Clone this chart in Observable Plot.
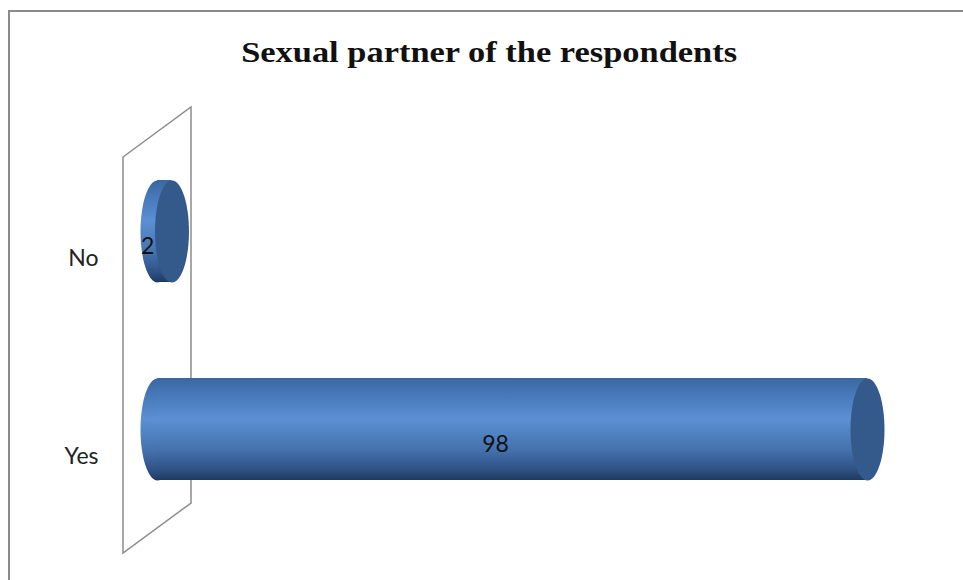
<!DOCTYPE html>
<html>
<head>
<meta charset="utf-8">
<script src="https://cdn.jsdelivr.net/npm/d3@7"></script>
<script src="https://cdn.jsdelivr.net/npm/@observablehq/plot@0.6"></script>
<style>
  html, body { margin: 0; padding: 0; background: #fff; }
  #wrap { position: relative; width: 963px; height: 580px; overflow: hidden; background: #fff; }
  #frame { position: absolute; left: 8px; top: 10px; width: 980px; height: 600px; border: 2px solid #8a8a8a; box-sizing: border-box; }
  #title { position: absolute; left: 0; width: 978px; top: 35px; text-align: center; }
  #title span { display: inline-block; transform-origin: 50% 50%;
           font-family: "Liberation Serif", serif; font-weight: bold; font-size: 30px; line-height: 34px;
           color: #111; white-space: nowrap; }
  #chart { position: absolute; left: 0; top: 0; }
</style>
</head>
<body>
<div id="wrap">
  <div id="frame"></div>
  <div id="title"><span id="titleText">Sexual partner of the respondents</span></div>
  <div id="chart"></div>
</div>
<script>
const categories = ["No", "Yes"];
const values = [2, 98];
const data = categories.map((c, i) => ({category: c, value: values[i]}));

// ellipse symbol (cylinder ends seen in perspective)
const ellipse = {
  draw(ctx, size) {
    const ry = Math.sqrt(size / Math.PI), rx = ry / 3, k = 0.5523;
    ctx.moveTo(rx, 0);
    ctx.bezierCurveTo(rx, k * ry, k * rx, ry, 0, ry);
    ctx.bezierCurveTo(-k * rx, ry, -rx, k * ry, -rx, 0);
    ctx.bezierCurveTo(-rx, -k * ry, -k * rx, -ry, 0, -ry);
    ctx.bezierCurveTo(k * rx, -ry, rx, -k * ry, rx, 0);
    ctx.closePath();
  }
};

// 3D back wall, derived from the scales
const wall = (index, scales, values, dims) => {
  const x0 = scales.x(0);
  const top = dims.marginTop, bot = dims.height - dims.marginBottom;
  const dx = 34, dy = 25;
  return d3.create("svg:path")
    .attr("d", `M${x0 - dx},${top + dy}L${x0 + dx},${top - dy}L${x0 + dx},${bot - dy}L${x0 - dx},${bot + dy}Z`)
    .attr("fill", "none")
    .attr("stroke", "#8c8c8c")
    .attr("stroke-width", 1.5)
    .node();
};

const chart = Plot.plot({
  width: 963,
  height: 580,
  marginLeft: 157,
  marginRight: 96,
  marginTop: 132,
  marginBottom: 52,
  style: {background: "transparent", overflow: "visible"},
  x: {domain: [0, 98], axis: null},
  y: {domain: categories, paddingInner: 0.485, paddingOuter: 0.2425, axis: null},
  marks: [
    wall,
    Plot.dot(data, {x: () => 0, y: "category", r: 51, symbol: ellipse, fill: "url(#cylGrad)"}),
    Plot.barX(data, {x1: () => 0, x2: "value", y: "category", fill: "url(#cylGrad)"}),
    Plot.dot(data, {x: "value", y: "category", r: 51, symbol: ellipse, fill: "#34598b"}),
    Plot.text(data, {x: d => d.value / 2, y: "category", text: d => String(d.value), dx: -17, dy: 15,
      fontSize: 23, fontFamily: "Lato, 'Liberation Sans', sans-serif", fill: "#111"}),
    Plot.text(data, {frameAnchor: "left", y: "category", text: "category", textAnchor: "end", dx: -59, dy: 27,
      fontSize: 23, fontFamily: "Lato, 'Liberation Sans', sans-serif", fill: "#222"})
  ]
});

// gradient for the cylinder body
const defs = d3.create("svg:defs");
const g = defs.append("linearGradient").attr("id", "cylGrad").attr("x1", 0).attr("y1", 0).attr("x2", 0).attr("y2", 1);
[[0, "#3b679f"], [0.15, "#4677b8"], [0.4, "#5b90d3"], [0.7, "#4572ae"], [0.9, "#2f5184"], [1, "#1f3a60"]]
  .forEach(([o, c]) => g.append("stop").attr("offset", o).attr("stop-color", c));
chart.insertBefore(defs.node(), chart.firstChild);

document.getElementById("chart").appendChild(chart);

// widen the title glyphs to the reference width (Cambria-like)
const t = document.getElementById("titleText");
const w = t.getBoundingClientRect().width;
t.style.transform = `scaleX(${496 / w})`;
</script>
</body>
</html>
